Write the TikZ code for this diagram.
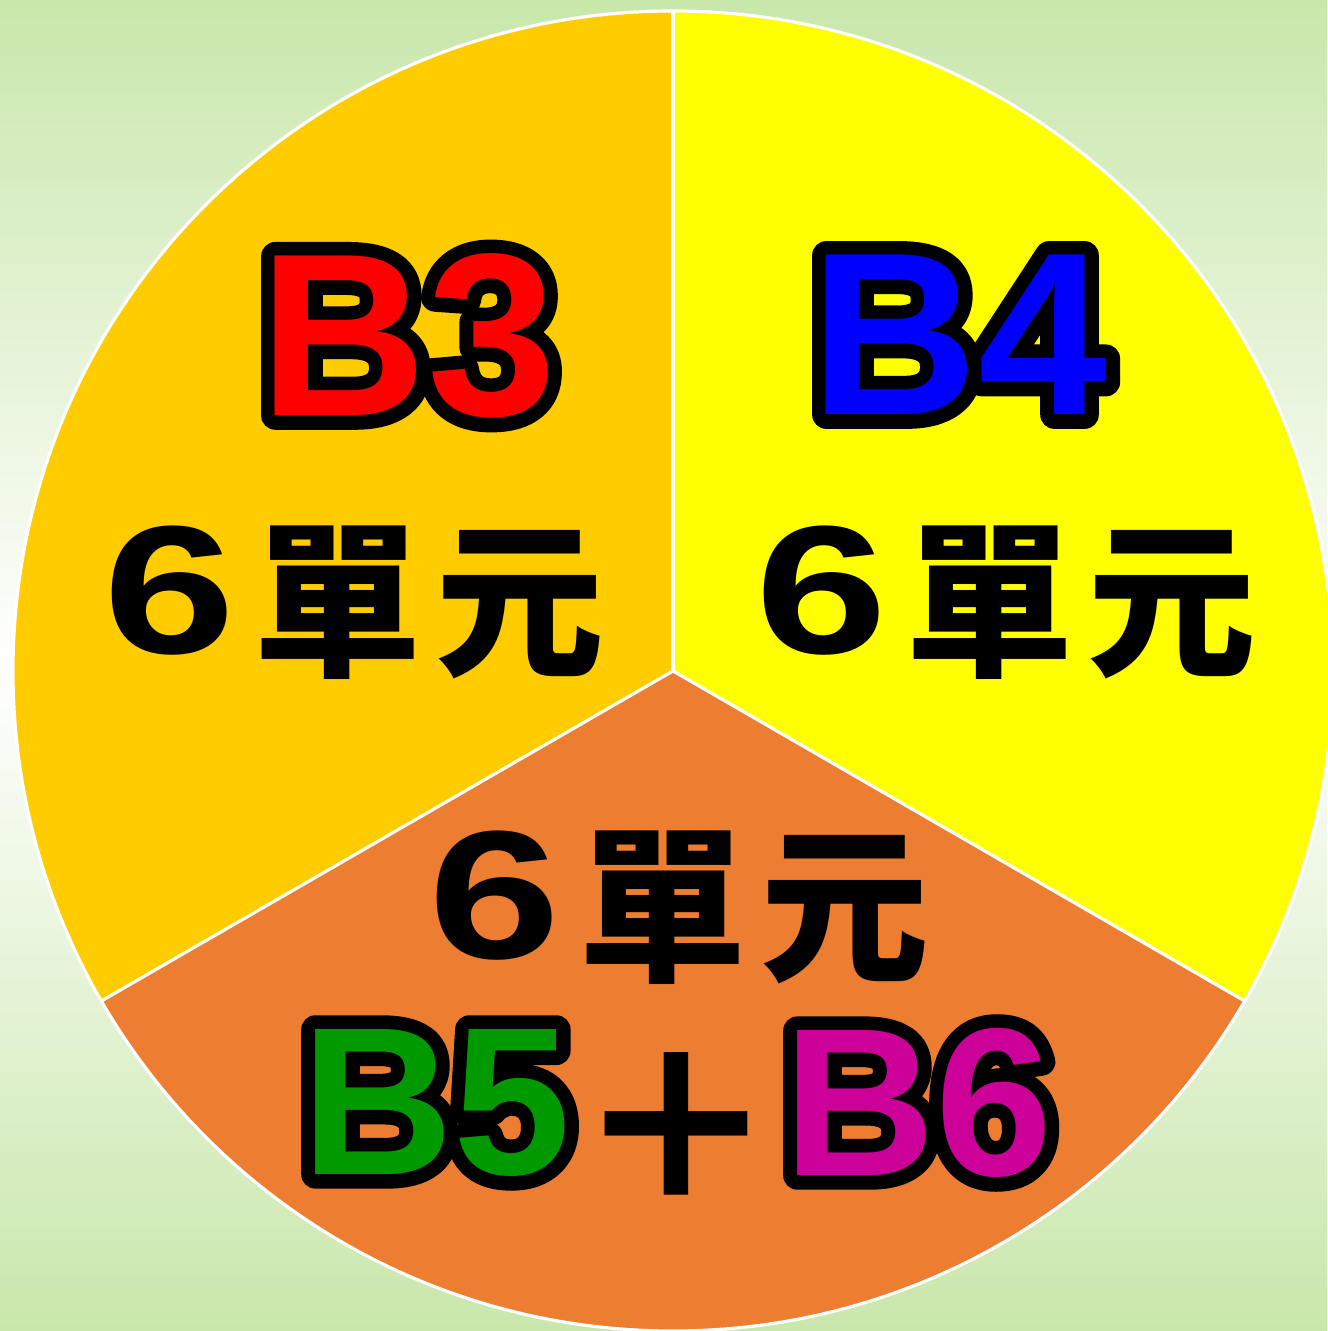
\documentclass[tikz,border=0pt]{standalone}
\usepackage{fontspec}
\usetikzlibrary{positioning}
\newfontfamily\latinfont{Liberation Sans}
\newfontfamily\cjkfont{Noto Sans CJK TC}
\definecolor{bggreen}{HTML}{C9E7AB}
\definecolor{goldpart}{HTML}{FFCC00}
\definecolor{yellowpart}{HTML}{FFFF00}
\definecolor{orangepart}{HTML}{ED7D31}
\definecolor{codered}{HTML}{FF0000}
\definecolor{codeblue}{HTML}{0000FF}
\definecolor{codegreen}{HTML}{009900}
\definecolor{codepink}{HTML}{CC0099}
% black halo behind a label: stroked copy first, filled copy on top
\newcommand\halotext[1]{\leavevmode\rlap{\color{black}\special{pdf:literal direct 1 Tr 8 w 1 j}#1\special{pdf:literal direct 0 Tr}}#1}
\tikzset{
  edge/.style={draw=white,line width=0.9pt},
  code/.style={inner sep=0pt,font=\latinfont\bfseries\fontsize{66}{66}\selectfont},
  codesmall/.style={inner sep=0pt,font=\latinfont\bfseries\fontsize{60}{60}\selectfont},
  num/.style={inner sep=0pt,font=\latinfont\bfseries\fontsize{52}{52}\selectfont},
  unit/.style={inner sep=0pt,font=\cjkfont\bfseries\fontsize{48}{48}\selectfont},
  plus/.style={inner sep=0pt,font=\cjkfont\bfseries\fontsize{58}{58}\selectfont}
}
\begin{document}
\begin{tikzpicture}
\useasboundingbox (0,0) rectangle (13.27,13.31);
\shade[top color=bggreen,bottom color=bggreen,middle color=white] (0,0) rectangle (13.27,13.31);

% three sectors
\coordinate (O) at (6.73,6.60);
\fill[goldpart] (O) -- ++(90:6.6) arc (90:210:6.6) -- cycle;
\fill[orangepart] (O) -- ++(210:6.6) arc (210:330:6.6) -- cycle;
\fill[yellowpart] (O) -- ++(330:6.6) arc (-30:90:6.6) -- cycle;
\draw[edge] (O) circle (6.6);
\draw[edge] (O) -- ++(90:6.6);
\draw[edge] (O) -- ++(210:6.6);
\draw[edge] (O) -- ++(330:6.6);

% labels
\node[code,text=codered] (b3) at (4.08,9.95) {\halotext{B3}};
\node[code,text=codeblue] (b4) at (9.59,9.96) {\halotext{B4}};

\node[num] (sixleft) at (1.70,7.40) {\scalebox{1.3}[1]{6}};
\node[unit,right=0.16cm of sixleft,yshift=-0.12cm] (unitleft) {單\hspace{0.13cm}元};
\node[num] (sixright) at (8.22,7.40) {\scalebox{1.3}[1]{6}};
\node[unit,right=0.16cm of sixright,yshift=-0.12cm] (unitright) {單\hspace{0.13cm}元};
\node[num] (sixbottom) at (4.95,4.35) {\scalebox{1.3}[1]{6}};
\node[unit,right=0.16cm of sixbottom,yshift=-0.12cm] (unitbottom) {單\hspace{0.13cm}元};

\node[codesmall,text=codegreen] (b5) at (4.36,2.28) {\halotext{B5}};
\node[plus] (plussign) at (6.76,2.04) {＋};
\node[codesmall,text=codepink] (b6) at (9.18,2.28) {\halotext{B6}};

\end{tikzpicture}
\end{document}
